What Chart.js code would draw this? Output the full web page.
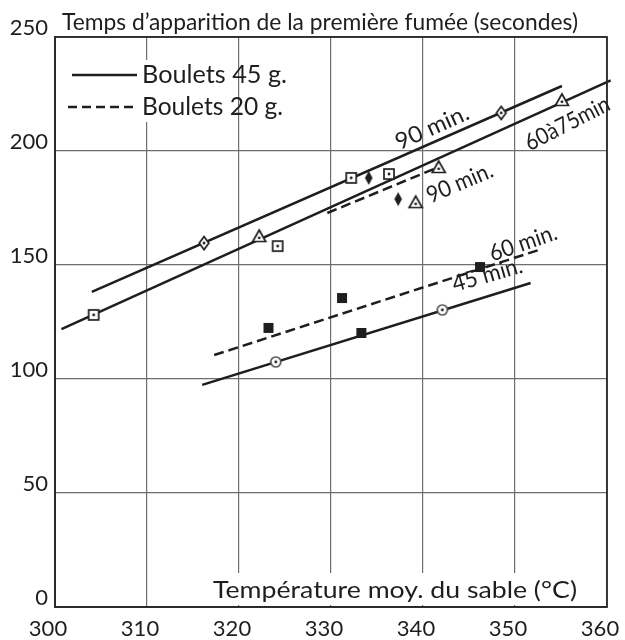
<!DOCTYPE html>
<html><head><meta charset="utf-8">
<script src="https://cdn.jsdelivr.net/npm/chart.js@4.4.0/dist/chart.umd.min.js"></script>
<style>html,body{margin:0;padding:0;background:#fff}#wrap{width:625px;height:640px}</style>
</head><body><div id="wrap"><canvas id="c" width="625" height="640"></canvas></div>
<script>
// ---------- data ----------
const xTicks = [300, 310, 320, 330, 340, 350, 360];
const yTicks = [0, 50, 100, 150, 200, 250];
const yTitle = "Temps d\u2019apparition de la première fumée (secondes)";
const xTitle = "Température moy. du sable (°C)";
const legendNames = ["Boulets 45 g.", "Boulets 20 g."];

// fitted lines (two end points each)
const line45g90 = [{x:304.0, y:138.2}, {x:355.1, y:228.5}];
const line45g60to75 = [{x:300.7, y:121.9}, {x:360.4, y:231.0}];
const line20g90 = [{x:329.6, y:172.8}, {x:341.7, y:193.0}];
const line20g60 = [{x:317.3, y:110.5}, {x:352.9, y:157.0}];
const line45g45 = [{x:316.0, y:97.4}, {x:351.7, y:142.1}];

// measured points, grouped by marker
const ptsSquareDot = [{x:304.2, y:128.1}, {x:324.2, y:158.3}, {x:332.2, y:188.2}, {x:336.3, y:189.9}];
const ptsDiamondDot = [{x:316.2, y:159.6}, {x:348.5, y:216.7}];
const ptsTriangleDot = [{x:322.2, y:162.7}, {x:355.1, y:222.4}, {x:341.7, y:193.0}, {x:339.2, y:177.6}];
const ptsFilledDiamond = [{x:334.1, y:188.2}, {x:337.3, y:178.9}];
const ptsFilledSquare = [{x:323.2, y:122.4}, {x:331.2, y:135.5}, {x:346.2, y:149.1}, {x:333.3, y:120.2}];
const ptsCircleDot = [{x:324.0, y:107.5}, {x:342.1, y:130.3}];

// curve labels (text + anchor in data units)
const curveLabelText = ["90 min.", "60à75min", "90 min.", "60 min.", "45 min."];
const curveLabelX = [341.0, 355.7, 344.0, 350.9, 347.0];
const curveLabelY = [210.3, 212.0, 186.0, 159.6, 145.6];

// ---------- style ----------
const INK = '#1e1e1e';
const FONT = "Lato, 'DejaVu Sans', sans-serif";
const labelAngles = [-24, -27, -23, -19, -16];
const labelWidths = [78, 92, 70, 70, 72];

function marker(type){
  const s = 18, c = document.createElement('canvas');
  c.width = s; c.height = s;
  const g = c.getContext('2d');
  g.translate(s/2, s/2);
  g.lineWidth = 1.7; g.strokeStyle = INK; g.fillStyle = '#fff';
  const dot = (dy)=>{ g.beginPath(); g.fillStyle = INK; g.arc(0, dy||0, 1.4, 0, Math.PI*2); g.fill(); };
  const poly = (p)=>{ g.beginPath(); p.forEach((q,i)=> i? g.lineTo(q[0],q[1]) : g.moveTo(q[0],q[1])); g.closePath(); };
  if (type==='sq'){ g.fillRect(-5,-5,10,10); g.strokeRect(-5,-5,10,10); dot(); }
  if (type==='dia'){ poly([[0,-6.5],[4.8,0],[0,6.5],[-4.8,0]]); g.fill(); g.stroke(); dot(); }
  if (type==='tri'){ poly([[0,-6],[6.5,5.5],[-6.5,5.5]]); g.fill(); g.stroke(); dot(1.8); }
  if (type==='circ'){ g.strokeStyle='#555'; g.beginPath(); g.arc(0,0,5,0,Math.PI*2); g.fill(); g.stroke(); dot(); }
  if (type==='fsq'){ g.fillStyle = INK; g.fillRect(-5,-5,10,10); }
  if (type==='fdia'){ g.fillStyle = INK; poly([[0,-7],[3.8,0],[0,7],[-3.8,0]]); g.fill(); }
  return c;
}

const lineDs = (data, dashed, clip) => ({type:'line', data, showLine:true, borderColor:INK, borderWidth:2.5,
  borderDash: dashed ? [10,5] : [], pointRadius:0, fill:false, order:1, clip: clip===false ? false : undefined});
const ptDs = (data, type) => ({type:'scatter', data, pointStyle: marker(type), pointRadius:6, order:0, showLine:false});

function fitText(ctx, text, x, y, width, size, align){
  ctx.save();
  ctx.font = size + 'px ' + FONT;
  const w = ctx.measureText(text).width;
  const sx = width / w;
  ctx.translate(x, y);
  ctx.scale(sx, 1);
  ctx.textAlign = 'left';
  const off = align === 'center' ? -w/2 : 0;
  ctx.fillText(text, off, 0);
  ctx.restore();
}

const decor = {
  id: 'decor',
  afterDraw(chart){
    const ctx = chart.ctx, a = chart.chartArea, xs = chart.scales.x, ys = chart.scales.y;
    ctx.save();
    // masks
    ctx.fillStyle = '#fff';
    ctx.fillRect(205, 573, 398, 32);
    ctx.fillRect(140, 60, 95, 62);
    // frame
    ctx.strokeStyle = '#2a2a2a'; ctx.lineWidth = 1.8;
    ctx.strokeRect(a.left, a.top, a.right - a.left, a.bottom - a.top);
    ctx.fillStyle = INK; ctx.textBaseline = 'alphabetic';
    // axis titles
    fitText(ctx, yTitle, 62, 30, 516, 24);
    fitText(ctx, xTitle, 213, 598, 364, 24);
    // legend
    ctx.strokeStyle = INK; ctx.lineWidth = 2.4;
    ctx.beginPath(); ctx.moveTo(72, 75); ctx.lineTo(137, 75); ctx.stroke();
    ctx.setLineDash([9,5]);
    ctx.beginPath(); ctx.moveTo(68, 107); ctx.lineTo(137, 107); ctx.stroke();
    ctx.setLineDash([]);
    fitText(ctx, legendNames[0], 142, 83, 145, 25);
    fitText(ctx, legendNames[1], 142, 115, 141, 25);
    // curve labels
    curveLabelText.forEach((t, i) => {
      const px = xs.getPixelForValue(curveLabelX[i]);
      const py = ys.getPixelForValue(curveLabelY[i]);
      ctx.save();
      ctx.translate(px, py);
      ctx.rotate(labelAngles[i] * Math.PI / 180);
      ctx.textBaseline = 'middle';
      fitText(ctx, t, 0, 0, labelWidths[i], 23, 'center');
      ctx.restore();
    });
    ctx.restore();
  }
};

new Chart(document.getElementById('c'), {
  type: 'scatter',
  data: { datasets: [
    ptDs(ptsSquareDot, 'sq'), ptDs(ptsDiamondDot, 'dia'), ptDs(ptsTriangleDot, 'tri'),
    ptDs(ptsFilledDiamond, 'fdia'), ptDs(ptsFilledSquare, 'fsq'), ptDs(ptsCircleDot, 'circ'),
    lineDs(line45g90, false), lineDs(line45g60to75, false, false), lineDs(line20g90, true),
    lineDs(line20g60, true), lineDs(line45g45, false)
  ]},
  options: {
    responsive: false, animation: false, devicePixelRatio: 1,
    layout: { padding: { top: 37, right: 18, bottom: 0, left: 0 } },
    plugins: { legend: { display: false }, tooltip: { enabled: false }, title: { display: false } },
    scales: {
      x: { type: 'linear', min: xTicks[0], max: xTicks[xTicks.length-1],
        afterBuildTicks: s => { s.ticks = xTicks.map(v => ({value: v})); },
        afterFit: s => { s.height = 33; s.paddingLeft = 0; s.paddingRight = 0; },
        grid: { color: '#6e6e6e', lineWidth: 1.2, drawTicks: false },
        border: { display: true, color: '#2a2a2a', width: 1.8 },
        ticks: { color: INK, font: { family: FONT, size: 22 }, padding: 9, labelOffset: -7, maxRotation: 0 } },
      y: { type: 'linear', min: yTicks[0], max: yTicks[yTicks.length-1],
        afterBuildTicks: s => { s.ticks = yTicks.map(v => ({value: v})); },
        afterFit: s => { s.width = 55; s.paddingTop = 0; s.paddingBottom = 0; },
        grid: { color: '#6e6e6e', lineWidth: 1.2, drawTicks: false },
        border: { display: true, color: '#2a2a2a', width: 1.8 },
        ticks: { color: INK, font: { family: FONT, size: 22 }, padding: 7, labelOffset: -9 } }
    }
  },
  plugins: [decor]
});
</script></body></html>
